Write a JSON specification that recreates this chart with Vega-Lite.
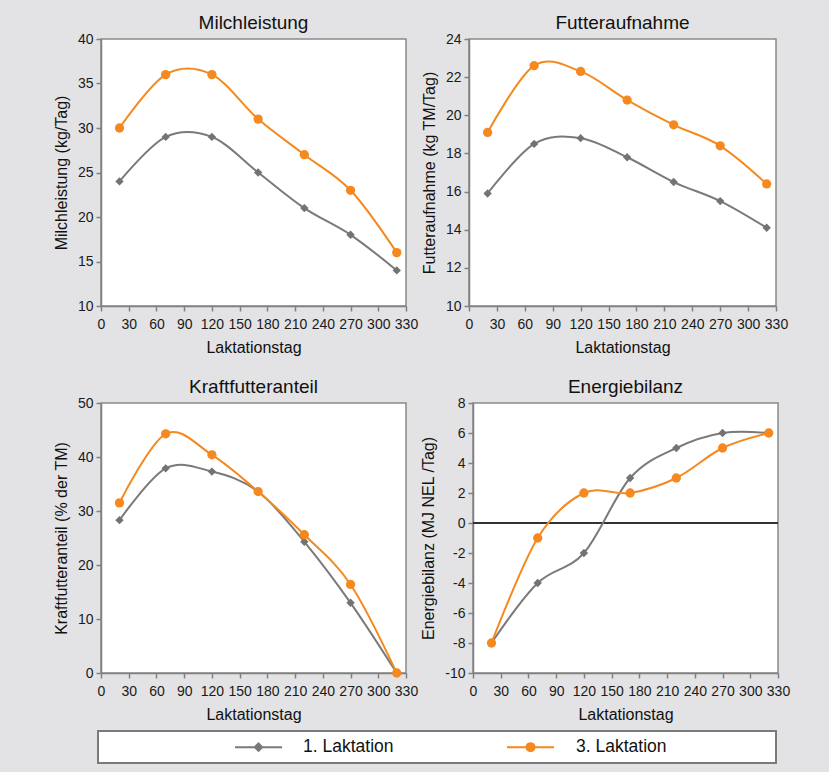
{
"$schema": "https://vega.github.io/schema/vega-lite/v6.json",
"background": "#e3e3e5",
"padding": {"left": 52, "top": 13, "right": 40, "bottom": 8},
"data": {"values": [
{"day":20,"series":"1. Laktation","milch":24,"futter":15.9,"kraft":28.3,"energie":-8},
{"day":70,"series":"1. Laktation","milch":29,"futter":18.5,"kraft":37.9,"energie":-4},
{"day":120,"series":"1. Laktation","milch":29,"futter":18.8,"kraft":37.3,"energie":-2},
{"day":170,"series":"1. Laktation","milch":25,"futter":17.8,"kraft":33.6,"energie":3},
{"day":220,"series":"1. Laktation","milch":21,"futter":16.5,"kraft":24.3,"energie":5},
{"day":270,"series":"1. Laktation","milch":18,"futter":15.5,"kraft":13.0,"energie":6},
{"day":320,"series":"1. Laktation","milch":14,"futter":14.1,"kraft":0,"energie":6},
{"day":20,"series":"3. Laktation","milch":30,"futter":19.1,"kraft":31.5,"energie":-8},
{"day":70,"series":"3. Laktation","milch":36,"futter":22.6,"kraft":44.3,"energie":-1},
{"day":120,"series":"3. Laktation","milch":36,"futter":22.3,"kraft":40.4,"energie":2},
{"day":170,"series":"3. Laktation","milch":31,"futter":20.8,"kraft":33.6,"energie":2},
{"day":220,"series":"3. Laktation","milch":27,"futter":19.5,"kraft":25.6,"energie":3},
{"day":270,"series":"3. Laktation","milch":23,"futter":18.4,"kraft":16.4,"energie":5},
{"day":320,"series":"3. Laktation","milch":16,"futter":16.4,"kraft":0,"energie":6}
]},
"spacing": 21,
"vconcat": [
{"spacing": 1, "hconcat": [
{"title": "Milchleistung", "width": 305, "height": 267,
 "encoding": {
  "x": {"field":"day","type":"quantitative","scale":{"domain":[0,330],"nice":false},"axis":{"values":[0,30,60,90,120,150,180,210,240,270,300,330],"title":"Laktationstag"}},
  "y": {"field":"milch","type":"quantitative","scale":{"domain":[10,40],"nice":false,"zero":false},"axis":{"values":[10,15,20,25,30,35,40],"title":"Milchleistung (kg/Tag)"}}
 },
 "layer": [
  {"mark":{"type":"line","interpolate":"cardinal","strokeWidth":2},
   "encoding":{"color":{"field":"series","type":"nominal","scale":{"domain":["1. Laktation","3. Laktation"],"range":["#7a7a7a","#f5891f"]},
    "legend":{"orient":"none","legendX":-3,"legendY":692,"direction":"horizontal","title":null,"fillColor":"white","strokeColor":"#7a7a7a","padding":7,"columnPadding":10,"labelFont":"Liberation Sans","labelFontSize":17.5,"labelColor":"#111","labelLimit":400,"symbolSize":100,"symbolStrokeWidth":2,
     "encode":{"legend":{"update":{"strokeWidth":{"value":2}}},
      "symbols":{"update":{"x":{"signal":"datum.index === 0 ? 153.5 : 126.5"},"shape":{"signal":"datum.index === 0 ? 'M-4.7,0H4.7M-0.75,0L0,-0.75L0.75,0L0,0.75Z' : 'M-4.7,0H4.7M-0.8,0A0.8,0.8,0,1,0,0.8,0A0.8,0.8,0,1,0,-0.8,0ZM46.9,0'"},"size":{"value":100},"fill":{"scale":"color","field":"value"},"stroke":{"scale":"color","field":"value"},"strokeWidth":{"value":2},"opacity":{"value":1}}},
      "labels":{"update":{"x":{"signal":"datum.index === 0 ? 198 : 172"}}}}}}}},
  {"transform":[{"filter":"datum.series === '1. Laktation'"}],"mark":{"type":"point","shape":"diamond","filled":true,"size":70,"color":"#737373","opacity":1}},
  {"transform":[{"filter":"datum.series === '3. Laktation'"}],"mark":{"type":"point","shape":"circle","filled":true,"size":86,"color":"#f5891f","opacity":1}}
 ]},
{"title": "Futteraufnahme", "width": 307, "height": 267,
 "encoding": {
  "x": {"field":"day","type":"quantitative","scale":{"domain":[0,330],"nice":false},"axis":{"values":[0,30,60,90,120,150,180,210,240,270,300,330],"title":"Laktationstag"}},
  "y": {"field":"futter","type":"quantitative","scale":{"domain":[10,24],"nice":false,"zero":false},"axis":{"values":[10,12,14,16,18,20,22,24],"title":"Futteraufnahme (kg TM/Tag)"}}
 },
 "layer": [
  {"mark":{"type":"line","interpolate":"cardinal","strokeWidth":2},
   "encoding":{"color":{"field":"series","type":"nominal","scale":{"domain":["1. Laktation","3. Laktation"],"range":["#7a7a7a","#f5891f"]},
    "legend":{"orient":"none","legendX":-3,"legendY":692,"direction":"horizontal","title":null,"fillColor":"white","strokeColor":"#7a7a7a","padding":7,"columnPadding":10,"labelFont":"Liberation Sans","labelFontSize":17.5,"labelColor":"#111","labelLimit":400,"symbolSize":100,"symbolStrokeWidth":2,
     "encode":{"legend":{"update":{"strokeWidth":{"value":2}}},
      "symbols":{"update":{"x":{"signal":"datum.index === 0 ? 153.5 : 126.5"},"shape":{"signal":"datum.index === 0 ? 'M-4.7,0H4.7M-0.75,0L0,-0.75L0.75,0L0,0.75Z' : 'M-4.7,0H4.7M-0.8,0A0.8,0.8,0,1,0,0.8,0A0.8,0.8,0,1,0,-0.8,0ZM46.9,0'"},"size":{"value":100},"fill":{"scale":"color","field":"value"},"stroke":{"scale":"color","field":"value"},"strokeWidth":{"value":2},"opacity":{"value":1}}},
      "labels":{"update":{"x":{"signal":"datum.index === 0 ? 198 : 172"}}}}}}}},
  {"transform":[{"filter":"datum.series === '1. Laktation'"}],"mark":{"type":"point","shape":"diamond","filled":true,"size":70,"color":"#737373","opacity":1}},
  {"transform":[{"filter":"datum.series === '3. Laktation'"}],"mark":{"type":"point","shape":"circle","filled":true,"size":86,"color":"#f5891f","opacity":1}}
 ]}
]},
{"spacing": 1, "hconcat": [
{"title": "Kraftfutteranteil", "width": 305, "height": 270,
 "encoding": {
  "x": {"field":"day","type":"quantitative","scale":{"domain":[0,330],"nice":false},"axis":{"values":[0,30,60,90,120,150,180,210,240,270,300,330],"title":"Laktationstag"}},
  "y": {"field":"kraft","type":"quantitative","scale":{"domain":[0,50],"nice":false},"axis":{"values":[0,10,20,30,40,50],"title":"Kraftfutteranteil (% der TM)"}}
 },
 "layer": [
  {"mark":{"type":"line","interpolate":"cardinal","strokeWidth":2},
   "encoding":{"color":{"field":"series","type":"nominal","scale":{"domain":["1. Laktation","3. Laktation"],"range":["#7a7a7a","#f5891f"]},
    "legend":{"orient":"none","legendX":-3,"legendY":692,"direction":"horizontal","title":null,"fillColor":"white","strokeColor":"#7a7a7a","padding":7,"columnPadding":10,"labelFont":"Liberation Sans","labelFontSize":17.5,"labelColor":"#111","labelLimit":400,"symbolSize":100,"symbolStrokeWidth":2,
     "encode":{"legend":{"update":{"strokeWidth":{"value":2}}},
      "symbols":{"update":{"x":{"signal":"datum.index === 0 ? 153.5 : 126.5"},"shape":{"signal":"datum.index === 0 ? 'M-4.7,0H4.7M-0.75,0L0,-0.75L0.75,0L0,0.75Z' : 'M-4.7,0H4.7M-0.8,0A0.8,0.8,0,1,0,0.8,0A0.8,0.8,0,1,0,-0.8,0ZM46.9,0'"},"size":{"value":100},"fill":{"scale":"color","field":"value"},"stroke":{"scale":"color","field":"value"},"strokeWidth":{"value":2},"opacity":{"value":1}}},
      "labels":{"update":{"x":{"signal":"datum.index === 0 ? 198 : 172"}}}}}}}},
  {"transform":[{"filter":"datum.series === '1. Laktation'"}],"mark":{"type":"point","shape":"diamond","filled":true,"size":70,"color":"#737373","opacity":1}},
  {"transform":[{"filter":"datum.series === '3. Laktation'"}],"mark":{"type":"point","shape":"circle","filled":true,"size":86,"color":"#f5891f","opacity":1}}
 ]},
{"title": "Energiebilanz", "width": 305, "height": 270,
 "encoding": {
  "x": {"field":"day","type":"quantitative","scale":{"domain":[0,330],"nice":false},"axis":{"values":[0,30,60,90,120,150,180,210,240,270,300,330],"title":"Laktationstag"}},
  "y": {"field":"energie","type":"quantitative","scale":{"domain":[-10,8],"nice":false,"zero":false},"axis":{"values":[-10,-8,-6,-4,-2,0,2,4,6,8],"labelExpr":"'' + datum.value","title":"Energiebilanz (MJ NEL /Tag)"}}
 },
 "layer": [
  {"mark":{"type":"rule","color":"#333333","strokeWidth":1.5},"encoding":{"x":null,"y":{"datum":0}}},
  {"mark":{"type":"line","interpolate":"cardinal","strokeWidth":2},
   "encoding":{"color":{"field":"series","type":"nominal","scale":{"domain":["1. Laktation","3. Laktation"],"range":["#7a7a7a","#f5891f"]},
    "legend":{"orient":"none","legendX":-3,"legendY":692,"direction":"horizontal","title":null,"fillColor":"white","strokeColor":"#7a7a7a","padding":7,"columnPadding":10,"labelFont":"Liberation Sans","labelFontSize":17.5,"labelColor":"#111","labelLimit":400,"symbolSize":100,"symbolStrokeWidth":2,
     "encode":{"legend":{"update":{"strokeWidth":{"value":2}}},
      "symbols":{"update":{"x":{"signal":"datum.index === 0 ? 153.5 : 126.5"},"shape":{"signal":"datum.index === 0 ? 'M-4.7,0H4.7M-0.75,0L0,-0.75L0.75,0L0,0.75Z' : 'M-4.7,0H4.7M-0.8,0A0.8,0.8,0,1,0,0.8,0A0.8,0.8,0,1,0,-0.8,0ZM46.9,0'"},"size":{"value":100},"fill":{"scale":"color","field":"value"},"stroke":{"scale":"color","field":"value"},"strokeWidth":{"value":2},"opacity":{"value":1}}},
      "labels":{"update":{"x":{"signal":"datum.index === 0 ? 198 : 172"}}}}}}}},
  {"transform":[{"filter":"datum.series === '1. Laktation'"}],"mark":{"type":"point","shape":"diamond","filled":true,"size":70,"color":"#737373","opacity":1}},
  {"transform":[{"filter":"datum.series === '3. Laktation'"}],"mark":{"type":"point","shape":"circle","filled":true,"size":86,"color":"#f5891f","opacity":1}}
 ]}
]}
],
"config": {
 "font": "Liberation Sans",
 "view": {"stroke": "#8a8a8a", "strokeWidth": 1.5, "fill": "white"},
 "title": {"font": "Liberation Sans", "fontSize": 19, "fontWeight": "normal", "color": "#111111", "offset": -1},
 "axis": {"labelFont": "Liberation Sans", "labelFontSize": 14, "labelColor": "#1a1a1a", "titleFont": "Liberation Sans", "titleFontSize": 16, "titleFontWeight": "normal", "titleColor": "#111111", "domainColor": "#808080", "domainWidth": 1.5, "tickColor": "#808080", "tickWidth": 1.5, "tickSize": 5, "grid": false, "labelOverlap": false, "labelFlush": false, "labelBound": false},
 "axisX": {"labelPadding": 6, "titlePadding": 8},
 "axisY": {"labelPadding": 3, "titlePadding": 8}
}
}
